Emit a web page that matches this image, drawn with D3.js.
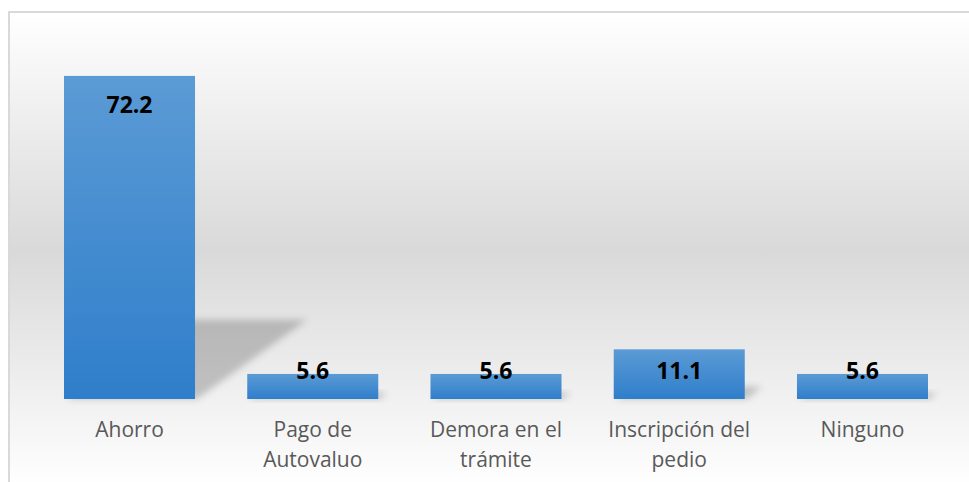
<!DOCTYPE html>
<html><head><meta charset="utf-8">
<script src="https://cdn.jsdelivr.net/npm/d3@7"></script>
<style>html,body{margin:0;padding:0;background:#fff;}svg{display:block;}</style>
</head><body>
<svg id="chart" width="969" height="482"></svg>
<script>
const categories = ["Ahorro", "Pago de Autovaluo", "Demora en el trámite", "Inscripción del pedio", "Ninguno"];
const values = [72.2, 5.6, 5.6, 11.1, 5.6];
const yDomain = [0, 80];

const svg = d3.select("#chart");
const W = 969, H = 482;
const defs = svg.append("defs");

const bg = defs.append("linearGradient").attr("id","bg").attr("x1",0).attr("y1",0).attr("x2",0).attr("y2",1);
bg.append("stop").attr("offset","0%").attr("stop-color","#ffffff");
bg.append("stop").attr("offset","50%").attr("stop-color","#d9d9d9");
bg.append("stop").attr("offset","100%").attr("stop-color","#ffffff");

const bar = defs.append("linearGradient").attr("id","bar").attr("x1",0).attr("y1",0).attr("x2",0).attr("y2",1);
bar.append("stop").attr("offset","0%").attr("stop-color","#5b9bd5");
bar.append("stop").attr("offset","100%").attr("stop-color","#2f7ecb");

const blur = defs.append("filter").attr("id","blur").attr("x","-50%").attr("y","-50%").attr("width","200%").attr("height","200%");
blur.append("feGaussianBlur").attr("stdDeviation",3.5);

// chart area with gradient + border
svg.append("rect").attr("x",9).attr("y",12).attr("width",W+20).attr("height",476)
  .attr("fill","url(#bg)").attr("stroke","#d9d9d9").attr("stroke-width",2);

const x = d3.scaleBand().domain(categories).range([37.9, 954.1]).paddingInner(0.285).paddingOuter(0.1425);
const y = d3.scaleLinear().domain(yDomain).range([399, 41]);

const data = categories.map((c,i)=>({c, v: values[i]}));
const y0 = y(0);

// shadows
svg.append("g").selectAll("polygon").data(data).join("polygon")
  .attr("points", d => {
    const h = y0 - y(d.v), bx = x(d.c), bw = x.bandwidth();
    const sh = 0.347*h, sv = 0.245*h;
    return [[bx+2,y0],[bx+bw+2,y0],[bx+bw+sh,y0-sv],[bx+sh,y0-sv]].map(p=>p.join(",")).join(" ");
  })
  .attr("fill","#000").attr("fill-opacity",0.2).attr("filter","url(#blur)");

// bars
svg.append("g").selectAll("rect").data(data).join("rect")
  .attr("x", d=>x(d.c)).attr("y", d=>y(d.v))
  .attr("width", x.bandwidth()).attr("height", d=>y0-y(d.v))
  .attr("fill","url(#bar)");

// value labels
svg.append("g").selectAll("text").data(data).join("text")
  .attr("x", d=>x(d.c)+x.bandwidth()/2)
  .attr("y", d=>Math.min(y(d.v)+37, y0-20))
  .attr("text-anchor","middle")
  .attr("font-family","'Open Sans', sans-serif").attr("font-weight","bold")
  .attr("font-size","23px").attr("fill","#000")
  .text(d=>d.v.toFixed(1));

// category labels with wrapping
const ctx = document.createElement("canvas").getContext("2d");
ctx.font = "21px 'Open Sans'";
function wrap(s, maxW){
  const words = s.split(" "); const lines=[]; let cur="";
  words.forEach(w=>{
    const t = cur ? cur+" "+w : w;
    if (ctx.measureText(t).width > maxW && cur){ lines.push(cur); cur=w; } else cur=t;
  });
  if (cur) lines.push(cur);
  return lines;
}
const lab = svg.append("g").selectAll("text").data(data).join("text")
  .attr("text-anchor","middle")
  .attr("font-family","'Open Sans', sans-serif").attr("font-size","21px").attr("fill","#595959");
lab.each(function(d){
  const lines = wrap(d.c, 150);
  const t = d3.select(this);
  lines.forEach((ln,i)=>{
    t.append("tspan").attr("x", x(d.c)+x.bandwidth()/2).attr("y", 437 + i*29.5).text(ln);
  });
});
</script>
</body></html>
